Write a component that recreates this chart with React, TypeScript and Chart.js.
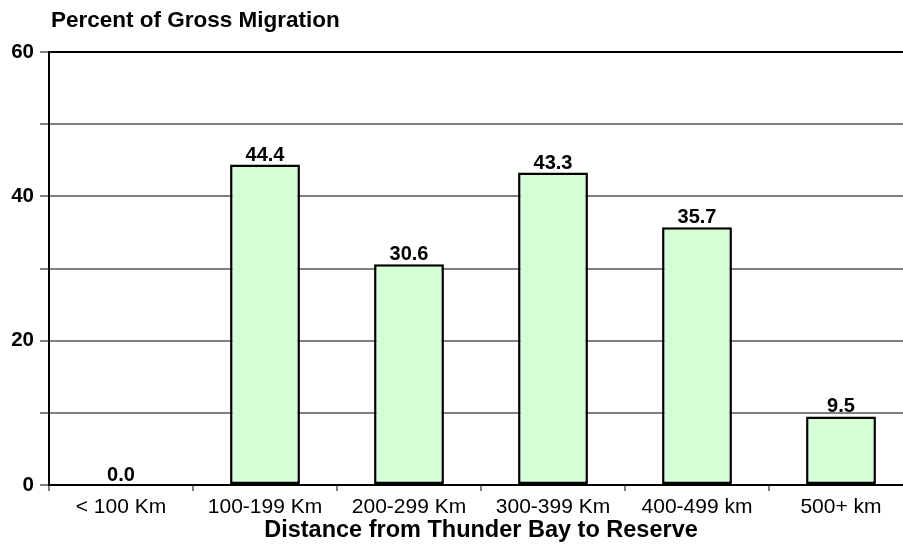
import React, { useEffect, useRef } from 'react';
import { Chart, registerables } from 'chart.js';

Chart.register(...registerables);

const categories = ['< 100 Km', '100-199 Km', '200-299 Km', '300-399 Km', '400-499 km', '500+ km'];
const percents = [0.0, 44.4, 30.6, 43.3, 35.7, 9.5];
const labeledYTicks = [0, 20, 40, 60];
const chartTitle = 'Percent of Gross Migration';
const xAxisTitle = 'Distance from Thunder Bay to Reserve';

const FONT = '"Liberation Sans", Arial, Helvetica, sans-serif';

const decorPlugin = {
  id: 'decor',
  afterDraw(chart: any) {
    const ctx = chart.ctx;
    const area = chart.chartArea;
    ctx.save();
    ctx.fillStyle = '#000';
    // chart title
    ctx.font = `bold 22.5px ${FONT}`;
    ctx.textAlign = 'left';
    ctx.textBaseline = 'middle';
    ctx.fillText(chartTitle, area.left + 2, 21);
    // value labels
    ctx.font = `bold 20px ${FONT}`;
    ctx.textAlign = 'center';
    ctx.textBaseline = 'alphabetic';
    const meta = chart.getDatasetMeta(0);
    meta.data.forEach((bar: any, i: number) => {
      ctx.fillText(percents[i].toFixed(1), bar.x, bar.y - 4);
    });
    ctx.restore();
  },
};

export default function App() {
  const ref = useRef<HTMLCanvasElement>(null);
  useEffect(() => {
    if (!ref.current) return;
    const chart = new Chart(ref.current, {
      type: 'bar',
      data: {
        labels: categories,
        datasets: [
          {
            data: percents,
            backgroundColor: 'rgb(214,255,214)',
            borderColor: '#000',
            borderWidth: 2.5,
            borderSkipped: false,
            categoryPercentage: 1,
            barPercentage: 0.485,
          },
        ],
      },
      options: {
        responsive: false,
        animation: false,
        devicePixelRatio: 1,
        layout: { padding: { top: 52, right: 22, left: 0, bottom: 0 } },
        plugins: {
          legend: { display: false },
          tooltip: { enabled: false },
          title: { display: false },
        },
        scales: {
          x: {
            grid: {
              offset: true,
              drawOnChartArea: false,
              drawTicks: true,
              tickLength: 6,
              tickColor: '#808080',
              lineWidth: 2,
            },
            border: { display: true, color: '#000', width: 2 },
            ticks: {
              color: '#000',
              font: { family: FONT, size: 21 },
              padding: 4,
              maxRotation: 0,
              autoSkip: false,
            },
            title: {
              display: true,
              text: xAxisTitle,
              color: '#000',
              font: { family: FONT, size: 23.5, weight: 'bold' },
              padding: { top: 0, bottom: 1 },
            },
            afterFit: (scale: any) => {
              scale.height = 61;
            },
          },
          y: {
            min: 0,
            max: 60,
            grid: {
              color: (c: any) => (c.tick && (c.tick.value === 0 || c.tick.value === 60) ? '#000' : '#808080'),
              tickColor: '#808080',
              tickLength: 9,
              lineWidth: 2,
            },
            border: { display: true, color: '#000', width: 2 },
            ticks: {
              stepSize: 10,
              color: '#000',
              padding: 6,
              font: { family: FONT, size: 20.5, weight: 'bold' },
              callback: (v: any) => (labeledYTicks.includes(Number(v)) ? String(v) : ''),
            },
            afterFit: (scale: any) => {
              scale.width = 49;
            },
          },
        },
      },
      plugins: [decorPlugin],
    } as any);
    return () => chart.destroy();
  }, []);

  return (
    <div style={{ position: 'absolute', left: 0, top: 0, width: 903, height: 546, overflow: 'hidden', background: '#fff' }}>
      <canvas ref={ref} width={935} height={546} style={{ display: 'block', width: 935, height: 546 }} />
    </div>
  );
}
